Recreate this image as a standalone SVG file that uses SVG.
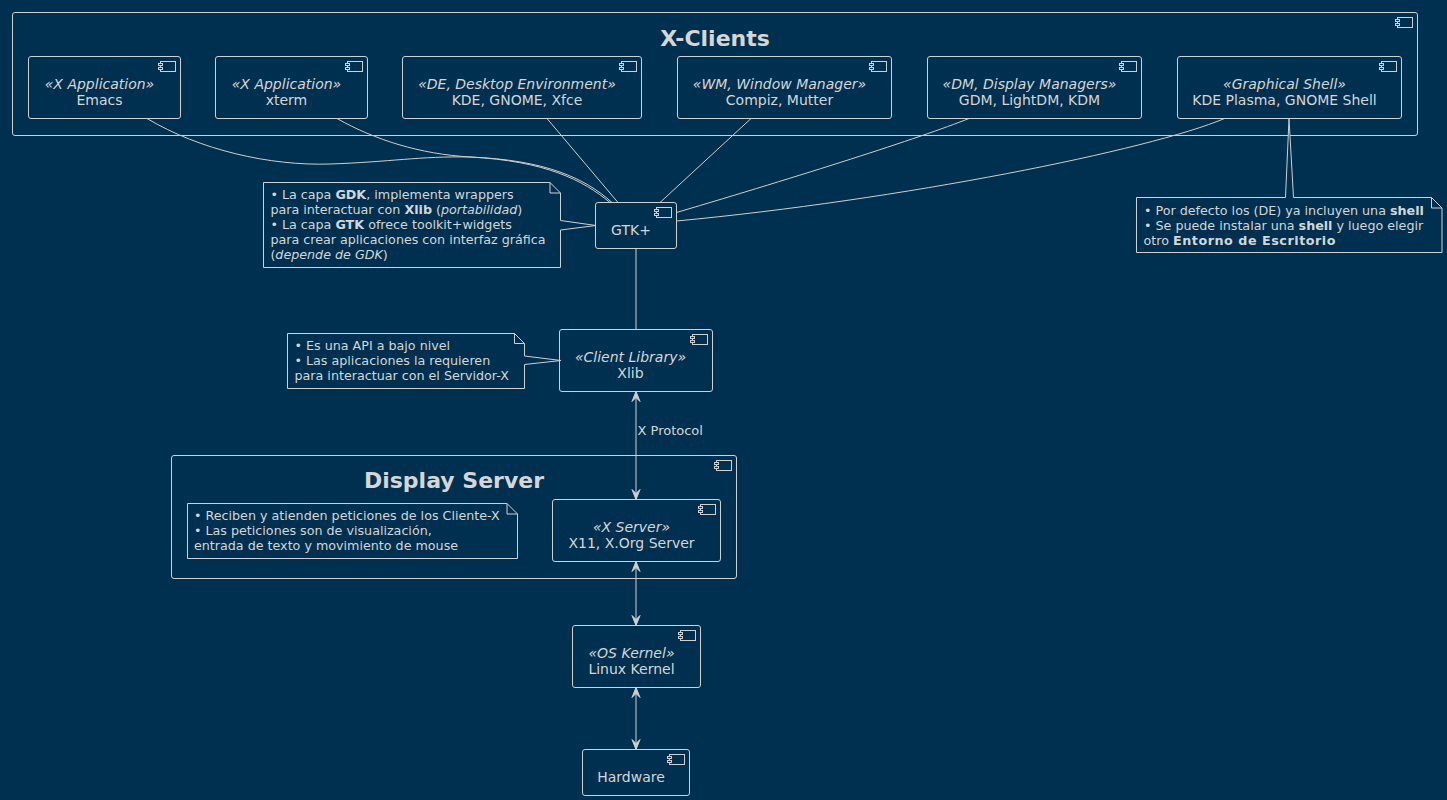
<svg xmlns="http://www.w3.org/2000/svg" xmlns:xlink="http://www.w3.org/1999/xlink" width="1447" height="800" viewBox="0 0 1447 800">
<style>
text{font-family:"DejaVu Sans","Noto Sans",sans-serif;fill:#d6d6d6}
.box{fill:#00304f;stroke:#d0d0d0;stroke-width:1}
.pkg{fill:none;stroke:#d0d0d0;stroke-width:1}
.n{font-size:14px;text-anchor:middle}
.st{font-size:14px;font-style:italic;text-anchor:middle}
.ttl{font-size:22px;font-weight:bold;text-anchor:middle}
.note{fill:#00304f;stroke:#d0d0d0;stroke-width:1}
.nt{font-size:12.7px}
.c{fill:none;stroke:#cfcfcf;stroke-width:1}
.lbl{font-size:13px}
</style>
<defs>
<g id="ico" fill="#00304f" stroke="#d0d0d0" stroke-width="1">
<rect x="0" y="0" width="15" height="10"/>
<rect x="-2" y="2" width="4" height="2"/>
<rect x="-2" y="6" width="4" height="2"/>
</g>
<marker id="ah" viewBox="-11 -5 12 10" refX="0" refY="0" markerWidth="12" markerHeight="10" markerUnits="userSpaceOnUse" orient="auto-start-reverse">
<path d="M0,0 L-10,-4 L-6,0 L-10,4 Z" fill="#cfcfcf" stroke="#cfcfcf" stroke-width="1" stroke-linejoin="miter"/>
</marker>
</defs>
<rect x="0" y="0" width="1447" height="800" fill="#00304f"/>

<g id="xclients">
<rect class="pkg" x="12.5" y="12.5" width="1405" height="123" rx="2.5"/>
<use xlink:href="#ico" x="1397.5" y="17.5"/>
<text class="ttl" x="715" y="45.5">X-Clients</text>
</g>

<g id="displayserver">
<rect class="pkg" x="171.5" y="455.5" width="565" height="123" rx="2.5"/>
<use xlink:href="#ico" x="716.5" y="460.5"/>
<text class="ttl" x="454" y="488">Display Server</text>
</g>

<g id="connectors">
<path class="c" d="M147,118.5 C200,150 270,166 330,164 C390,162 420,156 470,157 C545,160 585,178 612,202.5"/>
<path class="c" d="M337,118.5 C375,140 420,154 470,157 C545,161 583,180 610,202.5"/>
<path class="c" d="M547,118.5 L618,202.5"/>
<path class="c" d="M751,118.5 L660,202.5"/>
<path class="c" d="M969,118.5 C920,138 800,176 676.5,212.5"/>
<path class="c" d="M1224.5,118.5 C1150,150 900,200 676.5,221"/>
<path class="c" d="M636,248.5 L636,329.5"/>
<path class="c" d="M636,391.5 L636,499.5" marker-start="url(#ah)" marker-end="url(#ah)"/>
<text class="lbl" x="637.5" y="435">X Protocol</text>
<path class="c" d="M636,561.5 L636,625.5" marker-start="url(#ah)" marker-end="url(#ah)"/>
<path class="c" d="M636,687.5 L636,749.5" marker-start="url(#ah)" marker-end="url(#ah)"/>
</g>

<g id="emacs">
<rect class="box" x="28.5" y="56.5" width="152" height="62" rx="2.5"/>
<use xlink:href="#ico" x="160.5" y="61.5"/>
<text class="st" x="99.5" y="89">«X Application»</text>
<text class="n" x="99.5" y="105">Emacs</text>
</g>
<g id="xterm">
<rect class="box" x="215.5" y="56.5" width="152" height="62" rx="2.5"/>
<use xlink:href="#ico" x="347.5" y="61.5"/>
<text class="st" x="286.5" y="89">«X Application»</text>
<text class="n" x="286.5" y="105">xterm</text>
</g>
<g id="de">
<rect class="box" x="402.5" y="56.5" width="239" height="62" rx="2.5"/>
<use xlink:href="#ico" x="621.5" y="61.5"/>
<text class="st" x="517" y="89">«DE, Desktop Environment»</text>
<text class="n" x="517" y="105">KDE, GNOME, Xfce</text>
</g>
<g id="wm">
<rect class="box" x="677.5" y="56.5" width="214" height="62" rx="2.5"/>
<use xlink:href="#ico" x="871.5" y="61.5"/>
<text class="st" x="779.5" y="89">«WM, Window Manager»</text>
<text class="n" x="779.5" y="105">Compiz, Mutter</text>
</g>
<g id="dm">
<rect class="box" x="927.5" y="56.5" width="214" height="62" rx="2.5"/>
<use xlink:href="#ico" x="1121.5" y="61.5"/>
<text class="st" x="1029.5" y="89">«DM, Display Managers»</text>
<text class="n" x="1029.5" y="105">GDM, LightDM, KDM</text>
</g>
<g id="shell">
<rect class="box" x="1177.5" y="56.5" width="224" height="62" rx="2.5"/>
<use xlink:href="#ico" x="1381.5" y="61.5"/>
<text class="st" x="1284.5" y="89">«Graphical Shell»</text>
<text class="n" x="1284.5" y="105">KDE Plasma, GNOME Shell</text>
</g>

<g id="note-shell">
<path class="note" d="M1136.5,197.5 L1285.5,197.5 L1289,118.5 L1293.5,197.5 L1431.5,197.5 L1442,208 L1442,252.5 L1136.5,252.5 Z"/>
<path class="c" d="M1431.5,197.5 L1431.5,208 L1442,208"/>
<text class="nt" x="1144" y="214.5">• Por defecto los (DE) ya incluyen una <tspan font-weight="bold">shell</tspan></text>
<text class="nt" x="1144" y="229.6">• Se puede instalar una <tspan font-weight="bold">shell</tspan> y luego elegir</text>
<text class="nt" x="1143.5" y="244.7">otro <tspan font-weight="bold" letter-spacing="0.55">Entorno de Escritorio</tspan></text>
</g>

<g id="gtk">
<rect class="box" x="595.5" y="202.5" width="81" height="46" rx="2.5"/>
<use xlink:href="#ico" x="656.5" y="207.5"/>
<text class="n" x="631" y="235">GTK+</text>
</g>

<g id="note-gtk">
<path class="note" d="M263.5,182.5 L550,182.5 L560.5,193 L560.5,220.5 L596,225.5 L560.5,230 L560.5,267.5 L263.5,267.5 Z"/>
<path class="c" d="M550,182.5 L550,193 L560.5,193"/>
<text class="nt" x="270.4" y="199">• La capa <tspan font-weight="bold">GDK</tspan>, implementa wrappers</text>
<text class="nt" x="270.4" y="214.1">para interactuar con <tspan font-weight="bold">Xlib</tspan> (<tspan font-style="italic">portabilidad</tspan>)</text>
<text class="nt" x="270.4" y="229.2">• La capa <tspan font-weight="bold">GTK</tspan> ofrece toolkit+widgets</text>
<text class="nt" x="270.4" y="244.3">para crear aplicaciones con interfaz gráfica</text>
<text class="nt" x="270.4" y="259.4">(<tspan font-style="italic">depende de GDK</tspan>)</text>
</g>

<g id="xlib">
<rect class="box" x="559.5" y="329.5" width="153" height="62" rx="2.5"/>
<use xlink:href="#ico" x="692.5" y="334.5"/>
<text class="st" x="630.5" y="362">«Client Library»</text>
<text class="n" x="630.5" y="378">Xlib</text>
</g>

<g id="note-xlib">
<path class="note" d="M287.5,333.5 L514.5,333.5 L524.5,343.5 L524.5,356 L561,360.5 L524.5,364.5 L524.5,388.5 L287.5,388.5 Z"/>
<path class="c" d="M514.5,333.5 L514.5,343.5 L524.5,343.5"/>
<text class="nt" x="294.5" y="350">• Es una API a bajo nivel</text>
<text class="nt" x="294.5" y="365.1">• Las aplicaciones la requieren</text>
<text class="nt" x="294.5" y="380.2">para interactuar con el Servidor-X</text>
</g>

<g id="note-display">
<path class="note" d="M187.5,503.5 L507,503.5 L517.5,514 L517.5,558.5 L187.5,558.5 Z"/>
<path class="c" d="M507,503.5 L507,514 L517.5,514"/>
<text class="nt" x="194" y="520">• Reciben y atienden peticiones de los Cliente-X</text>
<text class="nt" x="194" y="535.1">• Las peticiones son de visualización,</text>
<text class="nt" x="194" y="550.2">entrada de texto y movimiento de mouse</text>
</g>

<g id="xserver">
<rect class="box" x="552.5" y="499.5" width="168" height="62" rx="2.5"/>
<use xlink:href="#ico" x="700.5" y="504.5"/>
<text class="st" x="631.5" y="532">«X Server»</text>
<text class="n" x="631.5" y="548">X11, X.Org Server</text>
</g>

<g id="kernel">
<rect class="box" x="572.5" y="625.5" width="128" height="62" rx="2.5"/>
<use xlink:href="#ico" x="680.5" y="630.5"/>
<text class="st" x="631.5" y="658">«OS Kernel»</text>
<text class="n" x="631.5" y="674">Linux Kernel</text>
</g>

<g id="hardware">
<rect class="box" x="582.5" y="749.5" width="107" height="46" rx="2.5"/>
<use xlink:href="#ico" x="669.5" y="754.5"/>
<text class="n" x="631" y="782">Hardware</text>
</g>
</svg>
